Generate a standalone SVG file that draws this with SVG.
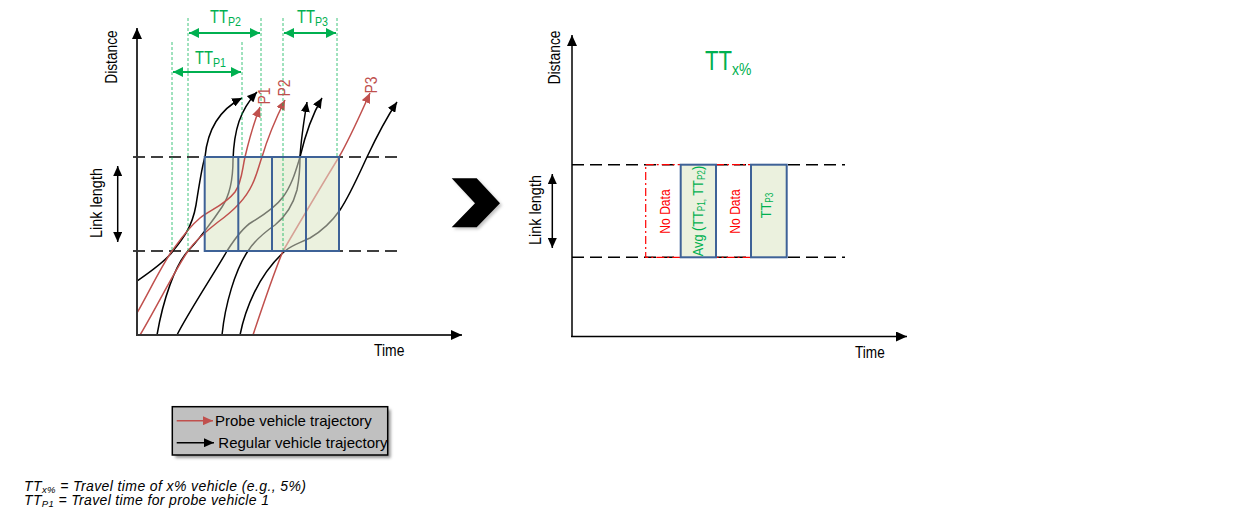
<svg xmlns="http://www.w3.org/2000/svg" width="1243" height="515" viewBox="0 0 1243 515">
<defs>
<style>
.nar{font-family:"Liberation Sans",Arial,sans-serif}
.reg{font-family:"Liberation Sans",Arial,sans-serif}
.ax{stroke:#333;stroke-width:2;fill:none}
.axr{stroke:#000;stroke-width:1.5;fill:none}
.dash{stroke:#000;stroke-width:1.4;stroke-dasharray:12,6;fill:none}
.trk{stroke:#000;stroke-width:1.5;fill:none}
.trr{stroke:#c0504d;stroke-width:1.5;fill:none}
.gdot{stroke:#00b050;stroke-width:1;stroke-dasharray:3,2;fill:none;opacity:0.75}
.garr{stroke:#00b050;stroke-width:2;fill:none}
.blue{stroke:#3e6297;stroke-width:2;fill:none}
.cell{fill:#ebf1de;stroke:#3e6297;stroke-width:2}
.nod{fill:none;stroke:#ff0000;stroke-width:1.2;stroke-dasharray:8,3,2,3}
.grn{fill:#00b050}
.red{fill:#ff0000}
.plab{fill:#c0504d}
</style>
<marker id="mk" markerUnits="userSpaceOnUse" markerWidth="11" markerHeight="9" refX="10" refY="4.5" orient="auto"><path d="M0,0 L10,4.5 L0,9 z" fill="#000"/></marker>
<marker id="mr" markerUnits="userSpaceOnUse" markerWidth="11" markerHeight="9" refX="10" refY="4.5" orient="auto"><path d="M0,0 L10,4.5 L0,9 z" fill="#c0504d"/></marker>
<marker id="mg" markerUnits="userSpaceOnUse" markerWidth="11" markerHeight="10" refX="10" refY="5" orient="auto-start-reverse"><path d="M0,0 L10,5 L0,10 z" fill="#00b050"/></marker>
<marker id="mb" markerUnits="userSpaceOnUse" markerWidth="11" markerHeight="9" refX="10" refY="4.5" orient="auto-start-reverse"><path d="M0,0 L10,4.5 L0,9 z" fill="#000"/></marker>
<marker id="ma" markerUnits="userSpaceOnUse" markerWidth="12" markerHeight="10" refX="11" refY="5" orient="auto"><path d="M0,0 L11,5 L0,10 z" fill="#000"/></marker>
<filter id="sh" x="-10%" y="-10%" width="130%" height="140%"><feGaussianBlur stdDeviation="1.5"/></filter>
</defs>
<rect width="1243" height="515" fill="#fff"/>

<g id="left-chart">
  <line class="dash" x1="133" y1="157" x2="397" y2="157"/>
  <line class="dash" x1="133" y1="251" x2="397" y2="251"/>
  <rect x="204.7" y="157" width="134.3" height="94" fill="#ebf1de"/>
  <g id="regular-trajectories">
    <path class="trk" marker-end="url(#mk)" d="M137,281 C150,272 165,262 173,251 C182,240 192,228 196,205 C200,180 202,166 205,157 C207,135 215,112 242,98"/>
    <path class="trk" marker-end="url(#mk)" d="M157,335 C163,300 175,265 188,251 C196,243 212,222 222,207 C230,195 233,180 233,160 C234,130 240,110 257,92"/>
    <path class="trk" marker-end="url(#mk)" d="M177,335 C188,313 215,272 227,251 C234,240 242,228 252,222 C262,216 275,208 283,197 C292,185 296,170 300,157 C304,140 312,115 322,98"/>
    <path class="trk" marker-end="url(#mk)" d="M222,335 C225,305 235,270 248,251 C255,240 265,232 275,225 C285,217 293,205 297,190 C299,180 300,170 300,157 C301,140 304,120 307,102"/>
    <path class="trk" marker-end="url(#mk)" d="M240,335 C245,310 258,275 285,251 C292,245 300,243 310,238 C322,231 333,220 340,210 C350,195 360,172 367,157 C375,140 385,120 397,102"/>
    <path class="trr" marker-end="url(#mr)" d="M253,335 C263,305 273,275 283,251 C300,222 320,188 339,157 C350,138 360,115 370,93"/>
  </g>
  <rect x="204.7" y="157" width="134.3" height="94" fill="#ebf1de" opacity="0.5"/>
  <g id="probe-trajectories">
    <path class="trr" marker-end="url(#mr)" d="M137,313 C150,290 162,265 172,251 C180,240 188,228 200,218 C210,210 225,205 235,192 C242,182 242,170 245,157 C249,140 253,125 260,107"/>
    <path class="trr" marker-end="url(#mr)" d="M140,335 C155,310 175,270 188,251 C195,241 205,232 218,222 C232,212 245,200 252,185 C257,175 259,165 262,157 C267,140 275,120 285,100"/>
  </g>
  <g id="time-markers">
    <line class="gdot" x1="172" y1="42" x2="172" y2="251"/>
    <line class="gdot" x1="188" y1="18" x2="188" y2="251"/>
    <line class="gdot" x1="242" y1="42" x2="242" y2="157"/>
    <line class="gdot" x1="261" y1="18" x2="261" y2="157"/>
    <line class="gdot" x1="283" y1="18" x2="283" y2="251"/>
    <line class="gdot" x1="337" y1="18" x2="337" y2="157"/>
  </g>
  <g id="link-cells">
    <rect class="blue" x="204.7" y="157" width="134.3" height="94"/>
    <line class="blue" x1="238.3" y1="157" x2="238.3" y2="251"/>
    <line class="blue" x1="272" y1="157" x2="272" y2="251"/>
    <line class="blue" x1="306" y1="157" x2="306" y2="251"/>
  </g>
  <g id="tt-arrows">
    <line class="garr" x1="189" y1="33" x2="260" y2="33" marker-start="url(#mg)" marker-end="url(#mg)"/>
    <line class="garr" x1="284" y1="33" x2="336" y2="33" marker-start="url(#mg)" marker-end="url(#mg)"/>
    <line class="garr" x1="173" y1="72" x2="241" y2="72" marker-start="url(#mg)" marker-end="url(#mg)"/>
    <text class="nar grn" transform="translate(210,23) scale(0.82,1)" font-size="18">TT<tspan font-size="13" dy="3">P2</tspan></text>
    <text class="nar grn" transform="translate(297,23) scale(0.82,1)" font-size="18">TT<tspan font-size="13" dy="3">P3</tspan></text>
    <text class="nar grn" transform="translate(195,64) scale(0.82,1)" font-size="18">TT<tspan font-size="13" dy="3">P1</tspan></text>
  </g>
  <g id="probe-labels">
    <text class="nar plab" font-size="17" text-anchor="middle" transform="translate(270,96) rotate(-90) scale(0.82,1)">P1</text>
    <text class="nar plab" font-size="17" text-anchor="middle" transform="translate(290,88) rotate(-90) scale(0.82,1)">P2</text>
    <text class="nar plab" font-size="17" text-anchor="middle" transform="translate(377,85) rotate(-90) scale(0.82,1)">P3</text>
  </g>
  <g id="left-axes">
    <line class="ax" x1="137" y1="336" x2="137" y2="28" marker-end="url(#ma)"/>
    <line class="ax" x1="136" y1="335" x2="462" y2="335" marker-end="url(#ma)"/>
    <line class="axr" x1="117.7" y1="166" x2="117.7" y2="242" marker-start="url(#mb)" marker-end="url(#mb)"/>
    <text class="nar" font-size="17" text-anchor="middle" transform="translate(117,57) rotate(-90) scale(0.81,1)">Distance</text>
    <text class="nar" font-size="17" text-anchor="middle" transform="translate(102,203) rotate(-90) scale(0.85,1)">Link length</text>
    <text class="nar" font-size="17" transform="translate(374,356) scale(0.82,1)">Time</text>
  </g>
</g>

<g id="chevron">
  <polygon points="453.7,180.3 478.7,180.3 502,205.3 478.7,229.3 453.7,229.3 477,205.3" fill="#888" opacity="0.5" filter="url(#sh)"/>
  <polygon points="451.7,178.3 476.7,178.3 500,203.3 476.7,227.3 451.7,227.3 475,203.3" fill="#000"/>
</g>

<g id="right-chart">
  <line class="dash" x1="572" y1="164.7" x2="845" y2="164.7"/>
  <line class="dash" x1="572" y1="257.3" x2="845" y2="257.3"/>
  <g id="no-data-1">
    <rect class="nod" x="645.7" y="164.7" width="35" height="92.6"/>
    <text class="nar red" font-size="15.5" text-anchor="middle" transform="translate(670,211.5) rotate(-90) scale(0.78,1)">No Data</text>
  </g>
  <g id="no-data-2">
    <rect class="nod" x="716" y="164.7" width="35" height="92.6"/>
    <text class="nar red" font-size="15.5" text-anchor="middle" transform="translate(740,211.5) rotate(-90) scale(0.78,1)">No Data</text>
  </g>
  <g id="avg-cell">
    <rect class="cell" x="680.7" y="164.7" width="35.3" height="92.6"/>
    <text class="nar grn" font-size="15.5" text-anchor="middle" transform="translate(703,211) rotate(-90) scale(0.82,1)">Avg (TT<tspan font-size="10" dy="2">P1,</tspan><tspan dy="-2"> TT</tspan><tspan font-size="10" dy="2">P2</tspan><tspan dy="-2">)</tspan></text>
  </g>
  <g id="tt-p3-cell">
    <rect class="cell" x="751" y="164.7" width="35.7" height="92.6"/>
    <text class="nar grn" font-size="15.5" text-anchor="middle" transform="translate(771,205.5) rotate(-90) scale(0.82,1)">TT<tspan font-size="10" dy="2">P3</tspan></text>
  </g>
  <text class="nar grn" transform="translate(705,70) scale(0.82,1)" font-size="27">TT<tspan font-size="17" dy="5">x%</tspan></text>
  <g id="right-axes">
    <line class="axr" x1="572" y1="337" x2="572" y2="35" marker-end="url(#ma)"/>
    <line class="axr" x1="571" y1="336.5" x2="907" y2="336.5" marker-end="url(#ma)"/>
    <line class="axr" x1="552.3" y1="174" x2="552.3" y2="248" marker-start="url(#mb)" marker-end="url(#mb)"/>
    <text class="nar" font-size="17" text-anchor="middle" transform="translate(560,57.5) rotate(-90) scale(0.82,1)">Distance</text>
    <text class="nar" font-size="17" text-anchor="middle" transform="translate(540.5,210) rotate(-90) scale(0.85,1)">Link length</text>
    <text class="nar" font-size="17" transform="translate(855,358) scale(0.8,1)">Time</text>
  </g>
</g>

<g id="legend">
  <rect x="175.3" y="409.7" width="215.4" height="48.3" fill="#555" opacity="0.6" filter="url(#sh)"/>
  <rect x="172.3" y="406.7" width="215.4" height="48.3" fill="#c0c0c0" stroke="#000" stroke-width="1.5"/>
  <line x1="176.7" y1="420.7" x2="213" y2="420.7" stroke="#c0504d" stroke-width="1.5" marker-end="url(#mr)"/>
  <text class="reg" x="215" y="425.5" font-size="15">Probe vehicle trajectory</text>
  <line x1="176.7" y1="442.7" x2="214" y2="442.7" stroke="#000" stroke-width="1.5" marker-end="url(#mk)"/>
  <text class="reg" x="218.3" y="448.4" font-size="15">Regular vehicle trajectory</text>
</g>

<g id="footnote" font-style="italic">
  <text class="reg" x="24" y="490.5" font-size="14" textLength="282" lengthAdjust="spacing">TT<tspan font-size="9.5" dy="2">x%</tspan><tspan dy="-2"> = Travel time of x% vehicle (e.g., 5%)</tspan></text>
  <text class="reg" x="24" y="504.5" font-size="14" textLength="245" lengthAdjust="spacing">TT<tspan font-size="9.5" dy="2">P1</tspan><tspan dy="-2"> = Travel time for probe vehicle 1</tspan></text>
</g>
</svg>
